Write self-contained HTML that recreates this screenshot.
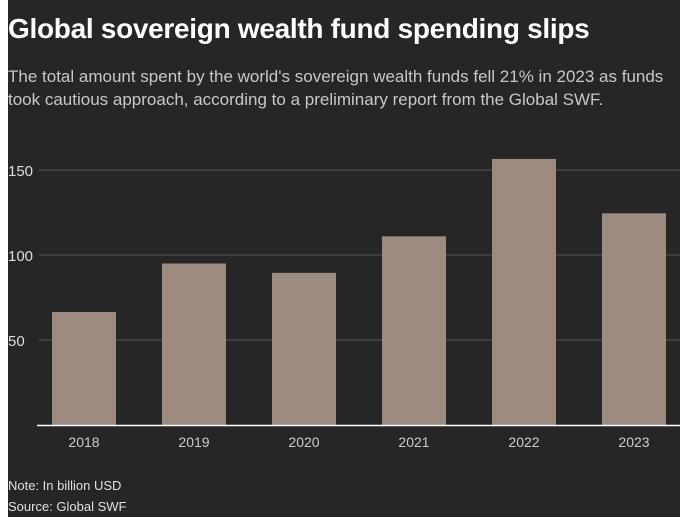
<!DOCTYPE html>
<html><head><meta charset="utf-8"><style>
body{margin:0;background:#fff;}
#c{position:absolute;left:8px;top:0;width:672px;height:517px;background:#262626;font-family:"Liberation Sans",sans-serif;}
.t{position:absolute;left:0;top:13px;color:#fff;font-weight:bold;font-size:28px;letter-spacing:-0.3px;white-space:nowrap}
.s{position:absolute;left:0;top:65px;color:#c8c8c8;font-size:17px;line-height:23px;width:672px}
.n{position:absolute;left:0;color:#e0e0e0;font-size:13px}
</style></head><body>
<div id="c">
<div class="t">Global sovereign wealth fund spending slips</div>
<div class="s">The total amount spent by the world's sovereign wealth funds fell 21% in 2023 as funds took cautious approach, according to a preliminary report from the Global SWF.</div>
<svg id="svg" width="672" height="517" style="position:absolute;left:0;top:0"></svg>
<div class="n" style="top:478px">Note: In billion USD</div>
<div class="n" style="top:499px">Source: Global SWF</div>
</div>
<script>
const categories=["2018","2019","2020","2021","2022","2023"];
const values=[66.5,95,89.5,111,156.5,124.5];
const ticks=[50,100,150];
const svg=document.getElementById('svg');
const NS='http://www.w3.org/2000/svg';
const y0=425,ppu=1.7;
function y(v){return y0-v*ppu;}
function x(i){return 44+i*110;}
function mk(t,a){const e=document.createElementNS(NS,t);for(const k in a)e.setAttribute(k,a[k]);svg.appendChild(e);return e;}
ticks.forEach(v=>{
 const l=mk('line',{x1:31,x2:672,y1:y(v),y2:y(v),stroke:'#555','stroke-width':1});
 
 
 const t=mk('text',{x:0,y:y(v)+6,fill:'#ddd','font-size':15,'font-family':'Liberation Sans, sans-serif'});
 t.textContent=v;
 
 
});
values.forEach((v,i)=>{
 const r=mk('rect',{x:x(i),y:y(v),width:64,height:v*ppu,fill:'#9c8b7e'});
 
 
 const t=mk('text',{x:x(i)+32,y:447,fill:'#ccc','font-size':14,'text-anchor':'middle','font-family':'Liberation Sans, sans-serif'});
 t.textContent=categories[i];
 
 
});
const b=mk('line',{x1:29,x2:672,y1:y0+0.5,y2:y0+0.5,stroke:'#fff','stroke-width':1.5});


</script>
</body></html>
